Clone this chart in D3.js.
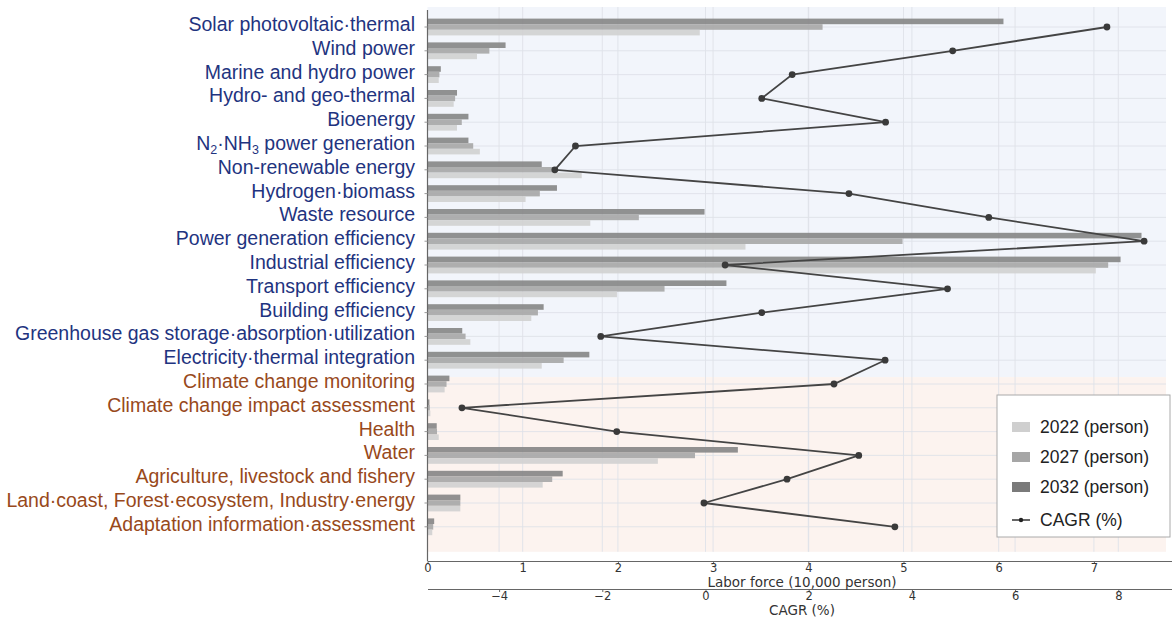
<!DOCTYPE html>
<html><head><meta charset="utf-8">
<script src="https://cdn.jsdelivr.net/npm/d3@7"></script>
<style>body{margin:0;background:#fff}</style>
</head><body><svg id="c" width="1172" height="618"></svg>
<script>
const categories = [
  "Solar photovoltaic·thermal","Wind power","Marine and hydro power","Hydro- and geo-thermal",
  "Bioenergy","N2·NH3 power generation","Non-renewable energy","Hydrogen·biomass",
  "Waste resource","Power generation efficiency","Industrial efficiency","Transport efficiency",
  "Building efficiency","Greenhouse gas storage·absorption·utilization","Electricity·thermal integration",
  "Climate change monitoring","Climate change impact assessment","Health","Water",
  "Agriculture, livestock and fishery","Land·coast, Forest·ecosystem, Industry·energy",
  "Adaptation information·assessment"
];
const sectors = ["m","m","m","m","m","m","m","m","m","m","m","m","m","m","m","a","a","a","a","a","a","a"];
const labor2022 = [2.86,0.52,0.118,0.275,0.31,0.55,1.62,1.03,1.71,3.34,7.02,1.99,1.09,0.45,1.20,0.18,0.03,0.118,2.42,1.21,0.345,0.05];
const labor2027 = [4.15,0.65,0.125,0.29,0.36,0.48,1.34,1.18,2.22,4.99,7.15,2.49,1.16,0.40,1.43,0.20,0.025,0.10,2.81,1.31,0.345,0.06];
const labor2032 = [6.05,0.82,0.14,0.31,0.43,0.43,1.20,1.36,2.91,7.50,7.28,3.14,1.22,0.365,1.70,0.23,0.02,0.097,3.26,1.42,0.345,0.07];
const cagr = [7.78,4.79,1.68,1.09,3.49,-2.52,-2.92,2.78,5.49,8.50,0.38,4.69,1.09,-2.03,3.48,2.49,-4.72,-1.72,2.97,1.58,-0.03,3.67];
const laborTicks = [0,1,2,3,4,5,6,7];
const cagrTicks = [-4,-2,0,2,4,6,8];
const seriesNames = ["2022 (person)","2027 (person)","2032 (person)"];
const lineName = "CAGR (%)";
const laborTitle = "Labor force (10,000 person)";
const cagrTitle = "CAGR (%)";

const svg = d3.select("#c");
const L = 427.5, R = 1172;
const x = d3.scaleLinear().domain([0, (R - L) / 95.2]).range([L, R]);
const xc = d3.scaleLinear().domain([(L - 705.5) / 51.6, (R - 705.5) / 51.6]).range([L, R]);
const y = d3.scalePoint().domain(d3.range(categories.length)).range([27, 27 + 23.8 * 21]);
const bgRight = 1166;
const yTop = y(0) - 20, ySplit = (y(14) + y(15)) / 2 + 5, yBottom = y(21) + 25;

// backgrounds
svg.append("rect").attr("x", L).attr("y", yTop).attr("width", bgRight - L).attr("height", ySplit - yTop).attr("fill", "#f2f5fb");
svg.append("rect").attr("x", L).attr("y", ySplit).attr("width", bgRight - L).attr("height", yBottom - ySplit).attr("fill", "#fcf3ef");

// gridlines
const grid = svg.append("g").attr("stroke", "#dfe2e9").attr("stroke-width", 0.9);
categories.forEach((c, i) => grid.append("line").attr("x1", L).attr("x2", bgRight).attr("y1", y(i)).attr("y2", y(i)));
laborTicks.filter(t => t > 0).forEach(t => grid.append("line").attr("x1", x(t)).attr("x2", x(t)).attr("y1", yTop).attr("y2", yBottom));
cagrTicks.forEach(t => grid.append("line").attr("x1", xc(t)).attr("x2", xc(t)).attr("y1", yTop).attr("y2", yBottom));

// bars
const bh = 5.6;
const series = [
  {vals: labor2032, color: "#888888", off: -1.5 * bh},
  {vals: labor2027, color: "#a8a8a8", off: -0.5 * bh},
  {vals: labor2022, color: "#d1d1d1", off: 0.5 * bh}
];
series.forEach(s => {
  svg.append("g").selectAll("rect").data(s.vals).join("rect")
    .attr("x", x(0)).attr("y", (d, i) => y(i) + s.off)
    .attr("width", d => x(d) - x(0)).attr("height", bh)
    .attr("fill", s.color).attr("fill-opacity", 0.92);
});

// CAGR line
const line = d3.line().x(d => xc(d)).y((d, i) => y(i));
svg.append("path").datum(cagr).attr("d", line).attr("fill", "none").attr("stroke", "#444").attr("stroke-width", 1.8);
svg.append("g").selectAll("circle").data(cagr).join("circle")
  .attr("cx", d => xc(d)).attr("cy", (d, i) => y(i)).attr("r", 3.4).attr("fill", "#3a3a3a");

// left spine + ticks
svg.append("line").attr("x1", L).attr("x2", L).attr("y1", yTop + 3).attr("y2", 561).attr("stroke", "#666").attr("stroke-width", 1.2);
categories.forEach((c, i) => svg.append("line").attr("x1", L - 3).attr("x2", L).attr("y1", y(i)).attr("y2", y(i)).attr("stroke", "#999"));

// bottom axes
const ax1 = svg.append("g").attr("transform", "translate(0,561)")
  .call(d3.axisBottom(x).tickValues(laborTicks).tickFormat(d3.format("d")).tickSize(3).tickPadding(0).tickSizeOuter(0));
const ax2 = svg.append("g").attr("transform", "translate(0,589)")
  .call(d3.axisBottom(xc).tickValues(cagrTicks).tickFormat(d3.format("d")).tickSize(3).tickPadding(0).tickSizeOuter(0));
[ax1, ax2].forEach(a => {
  a.select(".domain").attr("stroke", "#666").attr("stroke-width", 1.2);
  a.selectAll(".tick line").attr("stroke", "#666");
  a.selectAll("text").attr("font-family", "DejaVu Sans").attr("font-size", 11.5).attr("fill", "#333");
});
svg.append("text").attr("x", 802).attr("y", 587).attr("text-anchor", "middle")
  .attr("font-family", "DejaVu Sans").attr("font-size", 13.5).attr("fill", "#333").text(laborTitle);
svg.append("text").attr("x", 802).attr("y", 615).attr("text-anchor", "middle")
  .attr("font-family", "DejaVu Sans").attr("font-size", 13.5).attr("fill", "#333").text(cagrTitle);

// category labels
categories.forEach((c, i) => {
  const t = svg.append("text").attr("x", 415).attr("y", y(i) + 4).attr("text-anchor", "end")
    .attr("font-family", "Liberation Sans, Arial").attr("font-size", 19.5)
    .attr("fill", sectors[i] === "m" ? "#1f3480" : "#98491b");
  const parts = c.split(/(?<=[A-Z])(\d)/);
  parts.forEach((p, k) => {
    if (k % 2 === 1) t.append("tspan").attr("font-size", 12.5).attr("dy", 4).text(p);
    else if (p) t.append("tspan").attr("dy", k > 0 ? -4 : 0).text(p);
  });
});

// legend
const lg = svg.append("g");
lg.append("rect").attr("x", 997).attr("y", 395).attr("width", 173).attr("height", 142)
  .attr("fill", "#fff").attr("stroke", "#aaa").attr("stroke-width", 1);
const legColors = ["#cfcfcf", "#a6a6a6", "#7a7a7a"];
seriesNames.forEach((n, k) => {
  const yy = 427 + 30 * k;
  lg.append("rect").attr("x", 1012).attr("y", yy - 5).attr("width", 18).attr("height", 10).attr("fill", legColors[k]);
  lg.append("text").attr("x", 1040).attr("y", yy + 6).attr("font-family", "Liberation Sans, Arial").attr("font-size", 17.5).attr("fill", "#222").text(n);
});
lg.append("line").attr("x1", 1012).attr("x2", 1030).attr("y1", 520).attr("y2", 520).attr("stroke", "#333").attr("stroke-width", 1.5);
lg.append("circle").attr("cx", 1021).attr("cy", 520).attr("r", 2.2).attr("fill", "#222");
lg.append("text").attr("x", 1040).attr("y", 526).attr("font-family", "Liberation Sans, Arial").attr("font-size", 17.5).attr("fill", "#222").text(lineName);
</script></body></html>
